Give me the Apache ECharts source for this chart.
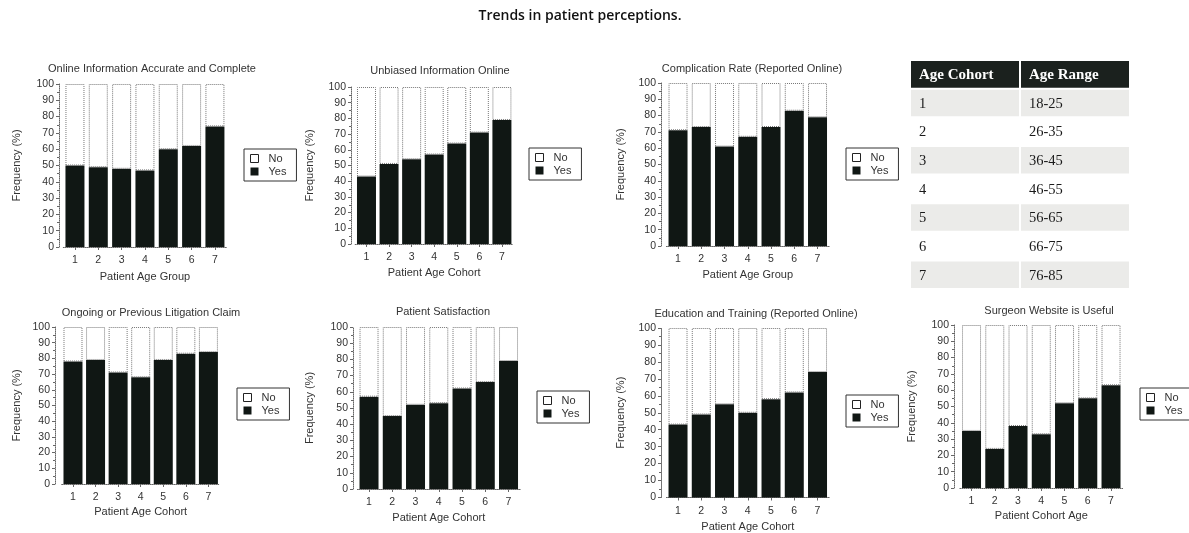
<!DOCTYPE html>
<html>
<head>
<meta charset="utf-8">
<script src="https://cdn.jsdelivr.net/npm/echarts@6/dist/echarts.min.js"></script>
<style>
html,body{margin:0;padding:0;background:#fff;}
#main{width:1189px;height:533px;}
</style>
</head>
<body>
<div id="main"></div>
<script>
// ---- data ----
const categories = ['1', '2', '3', '4', '5', '6', '7'];
const chartTitles = [
  'Online Information Accurate and Complete',
  'Unbiased Information Online',
  'Complication Rate (Reported Online)',
  'Ongoing or Previous Litigation Claim',
  'Patient Satisfaction',
  'Education and Training (Reported Online)',
  'Surgeon Website is Useful'
];
const xAxisNames = [
  'Patient Age Group',
  'Patient Age Cohort',
  'Patient Age Group',
  'Patient Age Cohort',
  'Patient Age Cohort',
  'Patient Age Cohort',
  'Patient Cohort Age'
];
const yAxisName = 'Frequency (%)';
const seriesNames = ['No', 'Yes'];
const yesOnlineInfo = [50, 49, 48, 47, 60, 62, 74];
const yesUnbiased = [43, 51, 54, 57, 64, 71, 79];
const yesComplication = [71, 73, 61, 67, 73, 83, 79];
const yesLitigation = [78, 79, 71, 68, 79, 83, 84];
const yesSatisfaction = [57, 45, 52, 53, 62, 66, 79];
const yesEducation = [43, 49, 55, 50, 58, 62, 74];
const yesWebsite = [35, 24, 38, 33, 52, 55, 63];
const yTicks = [0, 10, 20, 30, 40, 50, 60, 70, 80, 90, 100];

const tableHeader = ['Age Cohort', 'Age Range'];
const ageCohorts = ['1', '2', '3', '4', '5', '6', '7'];
const ageRanges = ['18-25', '26-35', '36-45', '46-55', '56-65', '66-75', '76-85'];

const mainTitle = 'Trends in patient perceptions.';

// ---- layout (positions/styles) ----
const yesSets = [yesOnlineInfo, yesUnbiased, yesComplication, yesLitigation, yesSatisfaction, yesEducation, yesWebsite];
const layout = [
  {left: 63.3, top: 84, width: 163.3, height: 163, axisX: 59, title: [152, 70], legend: [244, 149], yName: 17, xNameY: 277},
  {left: 355.2, top: 87, width: 158, height: 157, axisX: 351, title: [440, 72], legend: [529, 148], yName: 310, xNameY: 273},
  {left: 666.4, top: 83, width: 162.75, height: 163, axisX: 661, title: [752, 70], legend: [846, 148], yName: 621, xNameY: 275},
  {left: 61.7, top: 327, width: 158, height: 157, axisX: 55, title: [151, 314], legend: [237, 388], yName: 17, xNameY: 512},
  {left: 357.4, top: 327, width: 162.75, height: 162, axisX: 353, title: [443, 313], legend: [537, 391], yName: 310, xNameY: 518},
  {left: 666.4, top: 328, width: 162.75, height: 172, axisX: 661, title: [756, 315], legend: [846, 395], yName: 621, xNameY: 529},
  {left: 959.9, top: 325, width: 162.75, height: 163, axisX: 954, title: [1049, 312], legend: [1140, 388], yName: 912, xNameY: 516}
];
const FONT = '"Liberation Sans", Arial, sans-serif';
const SERIF = '"Liberation Serif", "Times New Roman", serif';
const TXT = '#333';
const YES_COLOR = '#101714';
const AXIS_COLOR = '#666';

const option = {
  animation: false,
  backgroundColor: '#fff',
  title: [],
  legend: [],
  grid: [],
  xAxis: [],
  yAxis: [],
  series: []
};

option.title.push({
  text: mainTitle,
  left: 580, top: 9, textAlign: 'center', padding: 0,
  textStyle: {fontFamily: '"Open Sans", sans-serif', fontSize: 14, fontWeight: 600, color: '#111'}
});

layout.forEach((L, i) => {
  option.title.push({
    text: chartTitles[i],
    left: L.title[0], top: L.title[1] - 6.5, textAlign: 'center', padding: 0,
    textStyle: {fontFamily: FONT, fontSize: 11, fontWeight: 'normal', color: TXT}
  });
  option.grid.push({left: L.left, top: L.top, width: L.width, height: L.height});
  const axisLine = {show: true, lineStyle: {color: AXIS_COLOR, type: 'dotted', width: 1}};
  option.xAxis.push({
    type: 'category', gridIndex: i, data: categories,
    name: xAxisNames[i], nameLocation: 'middle', nameGap: L.xNameY - (L.top + L.height) - 5.5,
    nameTextStyle: {fontFamily: FONT, fontSize: 11, color: TXT},
    axisLine: axisLine,
    axisTick: {show: true, alignWithLabel: true, length: 3, lineStyle: {color: AXIS_COLOR}},
    axisLabel: {fontFamily: FONT, fontSize: 10.5, color: TXT, margin: 8},
    splitLine: {show: false}
  });
  option.yAxis.push({
    type: 'value', gridIndex: i, min: yTicks[0], max: yTicks[yTicks.length - 1], interval: 10,
    offset: L.left - L.axisX,
    name: yAxisName, nameLocation: 'middle', nameRotate: 90, nameGap: L.axisX - L.yName - 5.5,
    nameTextStyle: {fontFamily: FONT, fontSize: 11, color: TXT},
    axisLine: axisLine,
    axisTick: {show: true, length: 3, lineStyle: {color: AXIS_COLOR}},
    minorTick: {show: true, splitNumber: 2, length: 2, lineStyle: {color: AXIS_COLOR}},
    axisLabel: {fontFamily: FONT, fontSize: 10.5, color: TXT, margin: 5},
    splitLine: {show: false}
  });
  const yes = yesSets[i];
  option.series.push({
    name: seriesNames[1], type: 'bar', xAxisIndex: i, yAxisIndex: i, stack: 's' + i,
    data: yes, barWidth: 19,
    itemStyle: {color: YES_COLOR}
  });
  option.series.push({
    name: seriesNames[0], type: 'bar', xAxisIndex: i, yAxisIndex: i, stack: 's' + i,
    data: yes.map(v => 100 - v), barWidth: 19,
    itemStyle: {color: '#fff', borderColor: '#777', borderWidth: 1, borderType: 'dotted'}
  });
  option.legend.push({
    left: L.legend[0], top: L.legend[1], orient: 'vertical',
    data: [
      {name: seriesNames[0], itemStyle: {color: '#fff', borderColor: '#222', borderWidth: 1}},
      {name: seriesNames[1], itemStyle: {color: YES_COLOR}}
    ],
    icon: 'rect', itemWidth: 8, itemHeight: 8, itemGap: 2,
    padding: [4, 10, 4, 6],
    borderColor: '#333', borderWidth: 1, backgroundColor: '#fff',
    selectedMode: false,
    textStyle: {fontFamily: FONT, fontSize: 11, color: TXT, padding: [0, 0, 0, 5]}
  });
});

// ---- table as custom series ----
const tableGridIndex = layout.length;
const rowLabels = ['h'].concat(ageCohorts);
option.grid.push({left: 910, top: 60, width: 220, height: 229});
option.xAxis.push({type: 'category', gridIndex: tableGridIndex, data: tableHeader, show: false});
option.yAxis.push({type: 'category', gridIndex: tableGridIndex, data: rowLabels, inverse: true, show: false});
const tableTexts = [];
const tableData = [];
for (let r = 0; r < rowLabels.length; r++) {
  for (let c = 0; c < 2; c++) {
    tableData.push([c, r]);
    tableTexts.push(r === 0 ? tableHeader[c] : (c === 0 ? ageCohorts[r - 1] : ageRanges[r - 1]));
  }
}
option.series.push({
  type: 'custom', xAxisIndex: tableGridIndex, yAxisIndex: tableGridIndex,
  data: tableData, silent: true,
  renderItem: function (params, api) {
    const c = api.value(0), r = api.value(1);
    const pt = api.coord([c, r]);
    const sz = api.size([1, 1]);
    const x0 = pt[0] - sz[0] / 2, y0 = pt[1] - sz[1] / 2;
    const header = r === 0;
    const fill = header ? '#1b211e' : (r % 2 === 1 ? '#ebebe9' : '#ffffff');
    return {
      type: 'group',
      children: [
        {type: 'rect', shape: {x: x0 + 1, y: y0 + 1, width: sz[0] - 2, height: sz[1] - 2}, style: {fill: fill}},
        {type: 'text', style: {
          x: x0 + 9, y: pt[1] + 1, text: tableTexts[params.dataIndex],
          fill: header ? '#fff' : '#1a1a1a',
          font: (header ? 'bold 15px ' : '14.5px ') + SERIF,
          verticalAlign: 'middle', align: 'left'
        }}
      ]
    };
  }
});

const chart = echarts.init(document.getElementById('main'), null, {renderer: 'canvas'});
chart.setOption(option);
</script>
</body>
</html>
